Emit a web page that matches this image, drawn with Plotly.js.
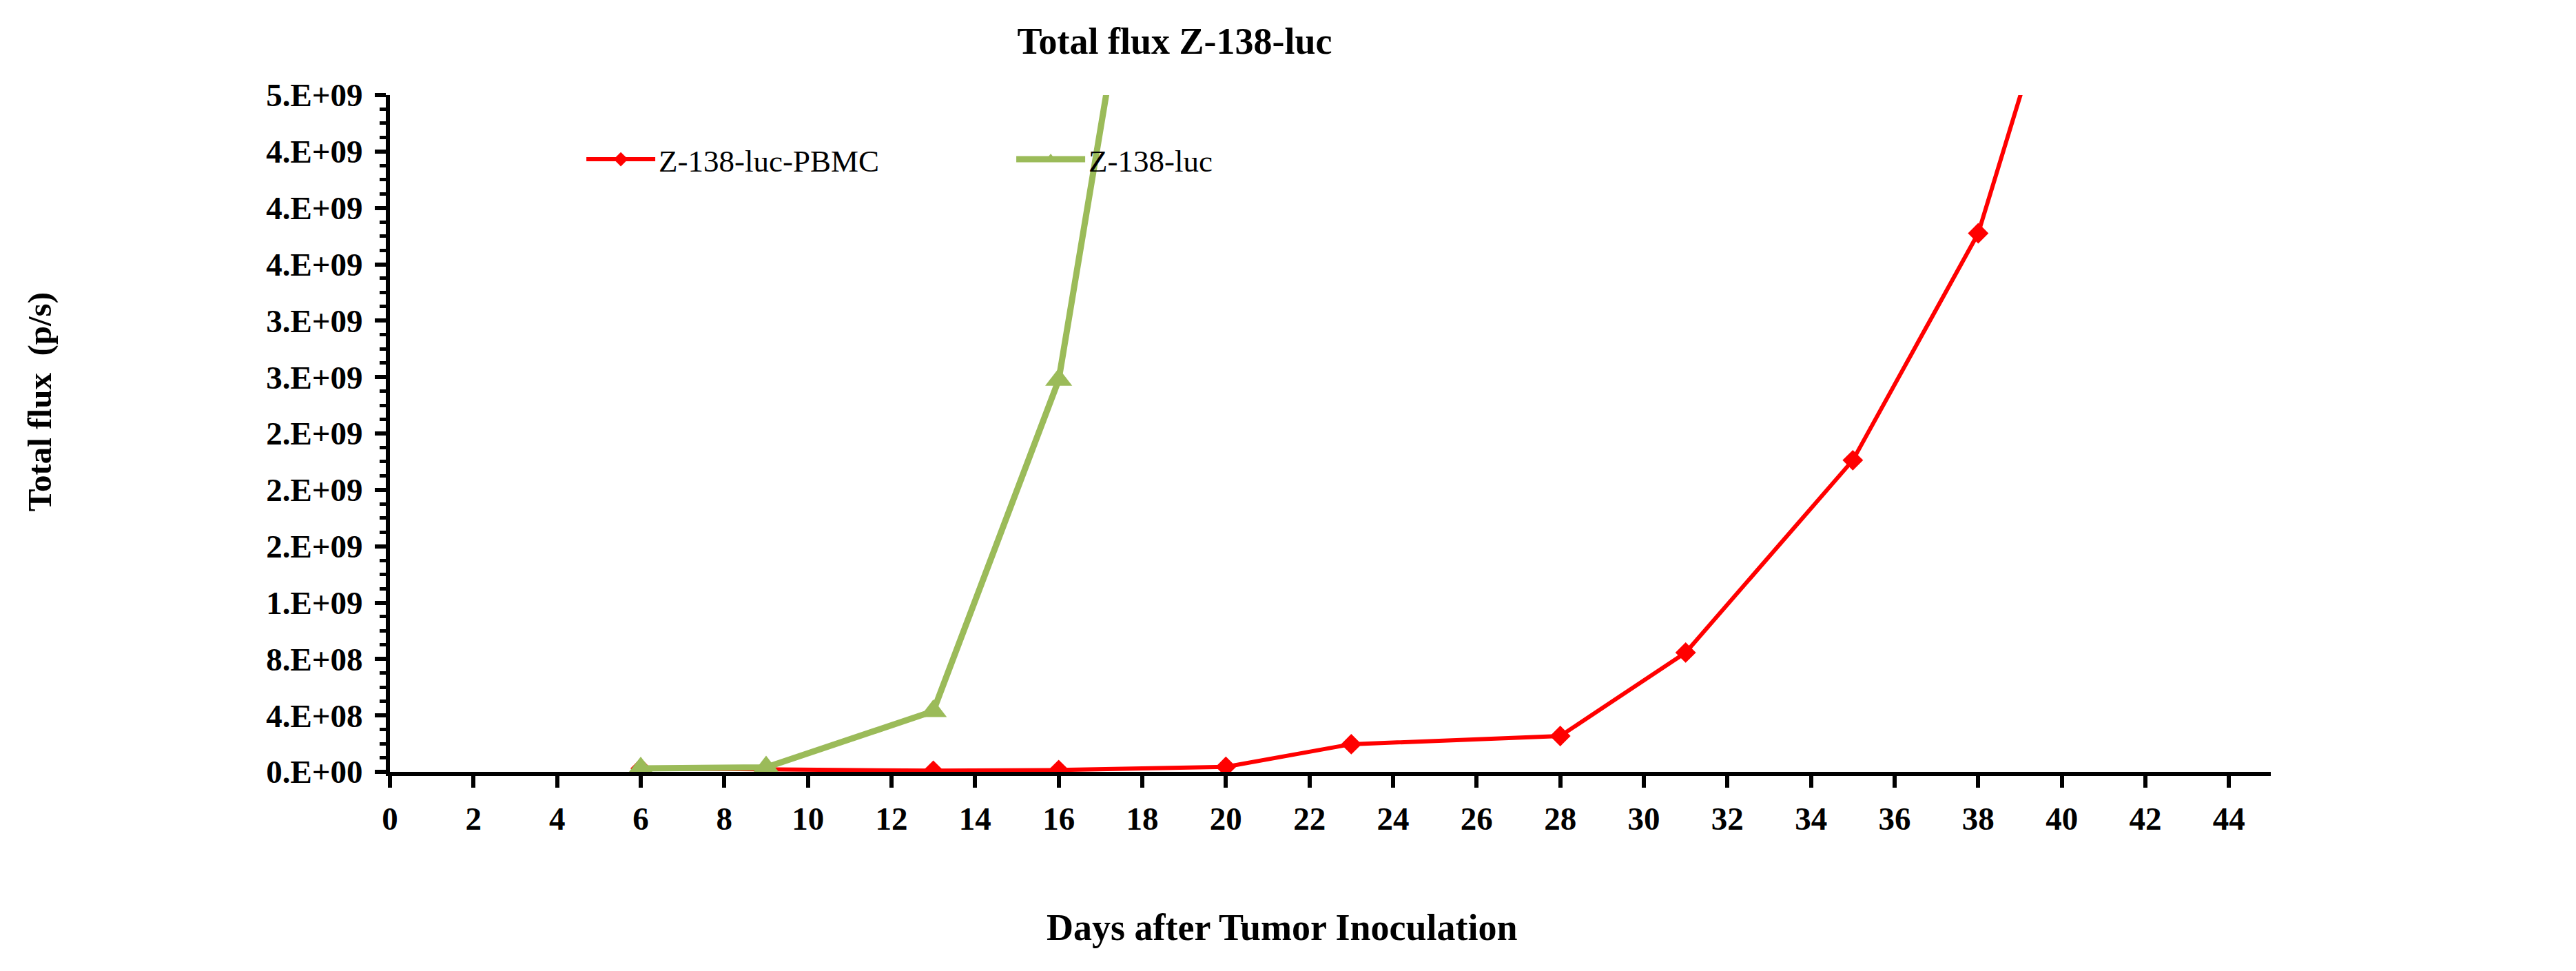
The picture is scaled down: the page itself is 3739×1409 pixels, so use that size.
<!DOCTYPE html>
<html>
<head>
<meta charset="utf-8">
<title>Total flux Z-138-luc</title>
<script src="https://cdn.plot.ly/plotly-3.0.1.min.js"></script>
<style>
  html, body { margin: 0; padding: 0; background: #ffffff; }
  #chart { width: 3739px; height: 1409px; }
</style>
</head>
<body>
<div id="chart"></div>
<script>
// Days after inoculation for each group
const daysPbmc = [6, 9, 13, 16, 20, 23, 28, 31, 35, 38, 42];
const daysLuc = [6, 9, 13, 16, 20];

// Total flux (p/s); the last point of each group lies above the axis range
const fluxPbmc = [2.5e7, 2.0e7, 0.8e7, 1.3e7, 3.6e7, 1.96e8, 2.54e8, 8.46e8, 2.21e9, 3.82e9, 7.7e9];
const fluxLuc = [2.5e7, 3.2e7, 4.3e8, 2.78e9, 9.9e9];

const seriesNames = ['Z-138-luc-PBMC', 'Z-138-luc'];

// Y ticks as Excel printed them ("0.E+00" format, step 4E+08)
const yTickVals = [0, 4e8, 8e8, 1.2e9, 1.6e9, 2.0e9, 2.4e9, 2.8e9, 3.2e9, 3.6e9, 4.0e9, 4.4e9, 4.8e9];
const yTickText = ['0.E+00', '4.E+08', '8.E+08', '1.E+09', '2.E+09', '2.E+09', '2.E+09',
                   '3.E+09', '3.E+09', '4.E+09', '4.E+09', '4.E+09', '5.E+09'];

const FONT = "'Liberation Serif', 'Times New Roman', serif";
const RED = '#ff0000';
const GREEN = '#9bbb59';

const traces = [
    {
        type: 'scatter',
        mode: 'lines+markers',
        name: seriesNames[0],
        x: daysPbmc,
        y: fluxPbmc,
        line: { color: RED, width: 6 },
        marker: { symbol: 'diamond', size: 23, color: RED },
        cliponaxis: true
    },
    {
        type: 'scatter',
        mode: 'lines+markers',
        name: seriesNames[1],
        x: daysLuc,
        y: fluxLuc,
        line: { color: GREEN, width: 9 },
        marker: { symbol: 'triangle-up', size: 34, color: GREEN },
        cliponaxis: true
    }
];

const tickFont = { family: FONT, size: 47, color: '#000000', weight: 'bold' };

const layout = {
    width: 3739,
    height: 1409,
    paper_bgcolor: '#ffffff',
    plot_bgcolor: '#ffffff',
    margin: { l: 566, r: 443, t: 138, b: 289, pad: 0 },
    font: { family: FONT, color: '#000000' },
    title: {
        text: 'Total flux Z-138-luc',
        font: { family: FONT, size: 54, color: '#000000', weight: 'bold' },
        xref: 'container',
        x: 0.456,
        xanchor: 'center',
        yref: 'container',
        y: 0.958,
        yanchor: 'middle'
    },
    showlegend: true,
    legend: {
        orientation: 'h',
        x: 0.1026,
        xanchor: 'left',
        y: 0.905,
        yanchor: 'middle',
        bgcolor: 'rgba(0,0,0,0)',
        font: { family: FONT, size: 45, color: '#000000' },
        entrywidth: 509,
        itemwidth: 100
    },
    xaxis: {
        range: [0, 45],
        dtick: 2,
        tick0: 0,
        showgrid: false,
        zeroline: false,
        showline: true,
        linecolor: '#000000',
        linewidth: 6,
        ticks: 'outside',
        ticklen: 17,
        tickwidth: 6,
        tickcolor: '#000000',
        tickfont: tickFont,
        ticklabelstandoff: 5
    },
    yaxis: {
        range: [0, 4.8e9],
        tickmode: 'array',
        tickvals: yTickVals,
        ticktext: yTickText,
        showgrid: false,
        zeroline: false,
        showline: true,
        linecolor: '#000000',
        linewidth: 6,
        ticks: 'outside',
        ticklen: 16,
        tickwidth: 6,
        tickcolor: '#000000',
        tickfont: tickFont,
        ticklabelstandoff: 8,
        minor: {
            dtick: 1e8,
            tick0: 0,
            ticks: 'outside',
            ticklen: 9,
            tickwidth: 5,
            tickcolor: '#000000',
            showgrid: false
        }
    },
    annotations: [
        {
            text: 'Days after Tumor Inoculation',
            xref: 'paper', yref: 'paper',
            x: 0.4744, y: -0.230,
            xanchor: 'center', yanchor: 'middle',
            showarrow: false,
            font: { family: FONT, size: 54, color: '#000000', weight: 'bold' }
        },
        {
            text: 'Total flux  (p/s)',
            xref: 'paper', yref: 'paper',
            x: -0.1864, y: 0.5468,
            xanchor: 'center', yanchor: 'middle',
            textangle: -90,
            showarrow: false,
            font: { family: FONT, size: 49, color: '#000000', weight: 'bold' }
        }
    ]
};

const config = { displayModeBar: false, responsive: false, staticPlot: true };

Plotly.newPlot('chart', traces, layout, config);
</script>
</body>
</html>
